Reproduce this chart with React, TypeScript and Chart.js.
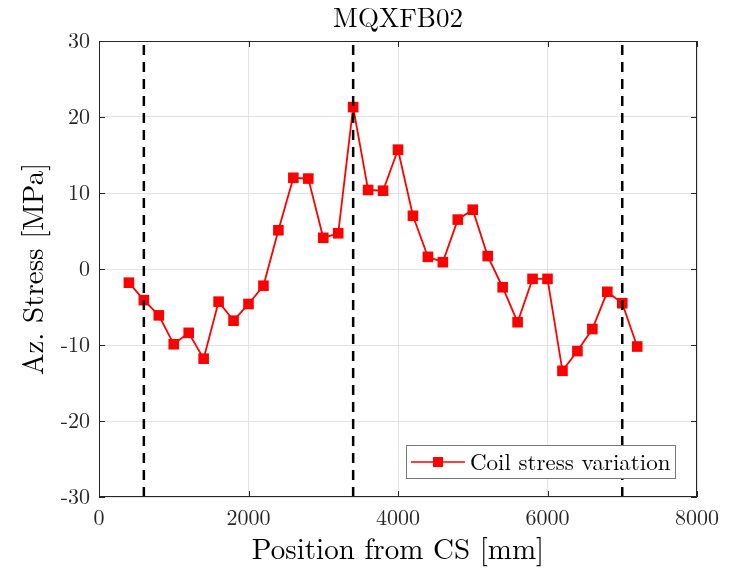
import React, { useEffect, useRef } from "react";
import { Chart, registerables } from "chart.js";

Chart.register(...registerables);

const positions = [400, 600, 800, 1000, 1200, 1400, 1600, 1800, 2000, 2200, 2400, 2600, 2800, 3000, 3200, 3400, 3600, 3800, 4000, 4200, 4400, 4600, 4800, 5000, 5200, 5400, 5600, 5800, 6000, 6200, 6400, 6600, 6800, 7000, 7200];
const stress = [-1.8, -4.1, -6.1, -9.9, -8.4, -11.8, -4.3, -6.8, -4.6, -2.2, 5.1, 12.0, 11.9, 4.1, 4.7, 21.3, 10.4, 10.3, 15.7, 7.0, 1.6, 0.9, 6.5, 7.8, 1.7, -2.4, -7.0, -1.3, -1.3, -13.4, -10.8, -7.9, -3.0, -4.5, -10.2];
const markerLines = [600, 3400, 7000];
const yRange = [-30, 30];
const xRange = [0, 8000];
const seriesLabel = "Coil stress variation";
const chartTitle = "MQXFB02";
const xTitle = "Position from CS [mm]";
const yTitle = "Az. Stress [MPa]";

const SERIF = "'Latin Modern Roman', 'CMU Serif', 'Liberation Serif', 'DejaVu Serif', serif";
const RED = "#ff0000";

const decorPlugin = {
  id: "decor",
  afterDraw(chart: any) {
    const { ctx, chartArea: a, scales } = chart;
    const xs = scales.x, ys = scales.y;
    ctx.save();
    // box
    ctx.strokeStyle = "#262626";
    ctx.lineWidth = 1;
    ctx.strokeRect(a.left + 0.5, a.top + 0.5, a.right - a.left - 1, a.bottom - a.top - 1);
    // inward ticks
    const tl = 6;
    ctx.beginPath();
    for (let v = xRange[0]; v <= xRange[1]; v += 2000) {
      const px = Math.round(xs.getPixelForValue(v)) + 0.5;
      ctx.moveTo(px, a.bottom); ctx.lineTo(px, a.bottom - tl);
      ctx.moveTo(px, a.top); ctx.lineTo(px, a.top + tl);
    }
    for (let v = yRange[0]; v <= yRange[1]; v += 10) {
      const py = Math.round(ys.getPixelForValue(v)) + 0.5;
      ctx.moveTo(a.left, py); ctx.lineTo(a.left + tl, py);
      ctx.moveTo(a.right, py); ctx.lineTo(a.right - tl, py);
    }
    ctx.stroke();

    // legend
    const lx = 406, ly = 445, lw = 269, lh = 33;
    ctx.fillStyle = "#ffffff";
    ctx.fillRect(lx, ly, lw, lh);
    ctx.strokeStyle = "#777777";
    ctx.lineWidth = 1;
    ctx.strokeRect(lx + 0.5, ly + 0.5, lw, lh);
    const cy = ly + lh / 2 + 0.5;
    ctx.strokeStyle = RED;
    ctx.lineWidth = 1.5;
    ctx.beginPath();
    ctx.moveTo(lx + 5, cy); ctx.lineTo(lx + 59, cy);
    ctx.stroke();
    ctx.fillStyle = RED;
    ctx.fillRect(lx + 32 - 5, cy - 5, 10, 10);
    ctx.fillStyle = "#000000";
    ctx.font = `23px ${SERIF}`;
    ctx.textBaseline = "middle";
    ctx.textAlign = "left";
    ctx.fillText(seriesLabel, lx + 64, cy + 1);

    // titles
    ctx.fillStyle = "#000000";
    ctx.textAlign = "center";
    ctx.textBaseline = "middle";
    ctx.font = `27px ${SERIF}`;
    ctx.fillText(chartTitle, (a.left + a.right) / 2, 19);
    ctx.font = `29px ${SERIF}`;
    ctx.fillText(xTitle, (a.left + a.right) / 2, 550);
    ctx.save();
    ctx.translate(34, (a.top + a.bottom) / 2);
    ctx.rotate(-Math.PI / 2);
    ctx.fillText(yTitle, 0, 0);
    ctx.restore();
    ctx.restore();
  },
};

export default function App() {
  const ref = useRef<HTMLCanvasElement | null>(null);
  useEffect(() => {
    if (!ref.current) return;
    const dashed = markerLines.map((x) => ({
      label: "",
      data: [{ x, y: yRange[0] }, { x, y: yRange[1] }],
      borderColor: "#000000",
      borderWidth: 2.5,
      borderDash: [10, 7],
      pointRadius: 0,
      showLine: true,
      fill: false,
    }));
    const chart = new Chart(ref.current, {
      type: "scatter",
      data: {
        datasets: [
          ...dashed,
          {
            label: seriesLabel,
            data: positions.map((x, i) => ({ x, y: stress[i] })),
            borderColor: RED,
            backgroundColor: RED,
            borderWidth: 1.8,
            pointStyle: "rect",
            pointRadius: 7.5,
            pointHoverRadius: 7.5,
            pointBorderWidth: 0,
            showLine: true,
            fill: false,
          },
        ],
      },
      options: {
        responsive: false,
        animation: false,
        events: [],
        layout: { padding: { left: 0, right: 39, top: 41, bottom: 0 } },
        plugins: { legend: { display: false }, title: { display: false }, tooltip: { enabled: false } },
        scales: {
          x: {
            type: "linear",
            min: xRange[0],
            max: xRange[1],
            border: { display: false },
            grid: { color: "#e3e3e3", drawTicks: false, lineWidth: 1 },
            ticks: {
              stepSize: 2000,
              padding: 8,
              color: "#262626",
              font: { family: SERIF, size: 22 },
              maxRotation: 0,
              callback: (v: any) => String(v),
            },
            afterFit(scale: any) { scale.height = 74; },
          },
          y: {
            type: "linear",
            min: yRange[0],
            max: yRange[1],
            border: { display: false },
            grid: { color: "#e3e3e3", drawTicks: false, lineWidth: 1 },
            ticks: {
              stepSize: 10,
              padding: 9,
              color: "#262626",
              font: { family: SERIF, size: 22 },
              callback: (v: any) => String(v),
            },
            afterFit(scale: any) { scale.width = 99; },
          },
        },
      },
      plugins: [decorPlugin],
    });
    return () => chart.destroy();
  }, []);
  return (
    <div style={{ position: "fixed", left: 0, top: 0, width: 736, height: 571, background: "#fff" }}>
      <canvas ref={ref} width={736} height={571} />
    </div>
  );
}
